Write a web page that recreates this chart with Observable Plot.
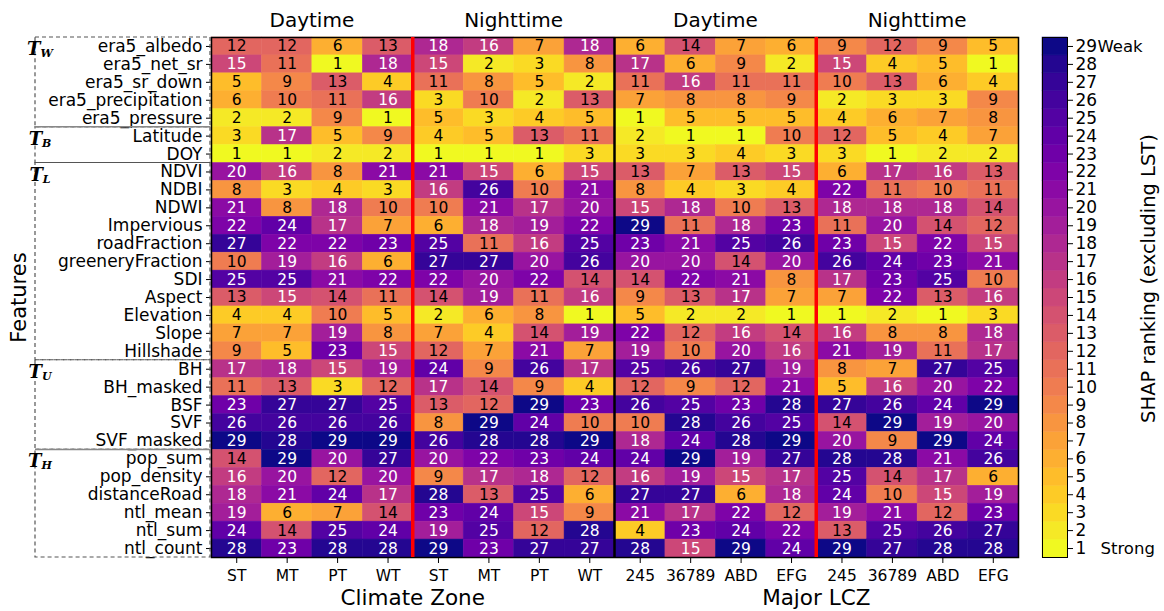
<!DOCTYPE html>
<html><head><meta charset="utf-8">
<script src="https://cdn.jsdelivr.net/npm/d3@7"></script>
<script src="https://cdn.jsdelivr.net/npm/@observablehq/plot@0.6"></script>
<style>
body{margin:0;background:#fff;}
#wrap{position:relative;width:1164px;height:611px;font-family:"DejaVu Sans",sans-serif;overflow:hidden;}
#wrap svg{position:absolute;top:0;overflow:visible;}
#wrap g[aria-label="x-axis tick label"] text{font-size:15.5px;}
#wrap g[aria-label="y-axis tick label"] text{font-size:17px;}
</style></head><body><div id="wrap"></div>
<script>
const features = ["era5_albedo","era5_net_sr","era5_sr_down","era5_precipitation","era5_pressure",
  "Latitude","DOY","NDVI","NDBI","NDWI","Impervious","roadFraction","greeneryFraction","SDI","Aspect",
  "Elevation","Slope","Hillshade","BH","BH_masked","BSF","SVF","SVF_masked","pop_sum","pop_density",
  "distanceRoad","ntl_mean","ntl_sum","ntl_count"];
const featureGroups = [
  {sub:"W", first:"era5_albedo", last:"era5_pressure"},
  {sub:"B", first:"Latitude", last:"DOY"},
  {sub:"L", first:"NDVI", last:"Hillshade"},
  {sub:"U", first:"BH", last:"SVF_masked"},
  {sub:"H", first:"pop_sum", last:"ntl_count"}
];
const panels = ["Climate Zone","Major LCZ"];
const periods = ["Daytime","Nighttime"];
const climateZones = ["ST","MT","PT","WT"];
const lczGroups = ["245","36789","ABD","EFG"];

const czDay = [[12,12,6,13],[15,11,1,18],[5,9,13,4],[6,10,11,16],[2,2,9,1],[3,17,5,9],[1,1,2,2],
  [20,16,8,21],[8,3,4,3],[21,8,18,10],[22,24,17,7],[27,22,22,23],[10,19,16,6],[25,25,21,22],[13,15,14,11],
  [4,4,10,5],[7,7,19,8],[9,5,23,15],[17,18,15,19],[11,13,3,12],[23,27,27,25],[26,26,26,26],[29,28,29,29],
  [14,29,20,27],[16,20,12,20],[18,21,24,17],[19,6,7,14],[24,14,25,24],[28,23,28,28]];
const czNight = [[18,16,7,18],[15,2,3,8],[11,8,5,2],[3,10,2,13],[5,3,4,5],[4,5,13,11],[1,1,1,3],
  [21,15,6,15],[16,26,10,21],[10,21,17,20],[6,18,19,22],[25,11,16,25],[27,27,20,26],[22,20,22,14],[14,19,11,16],
  [2,6,8,1],[7,4,14,19],[12,7,21,7],[24,9,26,17],[17,14,9,4],[13,12,29,23],[8,29,24,10],[26,28,28,29],
  [20,22,23,24],[9,17,18,12],[28,13,25,6],[23,24,15,9],[19,25,12,28],[29,23,27,27]];
const lczDay = [[6,14,7,6],[17,6,9,2],[11,16,11,11],[7,8,8,9],[1,5,5,5],[2,1,1,10],[3,3,4,3],
  [13,7,13,15],[8,4,3,4],[15,18,10,13],[29,11,18,23],[23,21,25,26],[20,20,14,20],[14,22,21,8],[9,13,17,7],
  [5,2,2,1],[22,12,16,14],[19,10,20,16],[25,26,27,19],[12,9,12,21],[26,25,23,28],[10,28,26,25],[18,24,28,29],
  [24,29,19,27],[16,19,15,17],[27,27,6,18],[21,17,22,12],[4,23,24,22],[28,15,29,24]];
const lczNight = [[9,12,9,5],[15,4,5,1],[10,13,6,4],[2,3,3,9],[4,6,7,8],[12,5,4,7],[3,1,2,2],
  [6,17,16,13],[22,11,10,11],[18,18,18,14],[11,20,14,12],[23,15,22,15],[26,24,23,21],[17,23,25,10],[7,22,13,16],
  [1,2,1,3],[16,8,8,18],[21,19,11,17],[8,7,27,25],[5,16,20,22],[27,26,24,29],[14,29,19,20],[20,9,29,24],
  [28,28,21,26],[25,14,17,6],[24,10,15,19],[19,21,12,23],[13,25,26,27],[29,27,28,28]];
const rankLevels = d3.range(1, 30);

// build table
const blocks = [
  {panel:panels[0], period:periods[0], cols:climateZones, vals:czDay},
  {panel:panels[0], period:periods[1], cols:climateZones, vals:czNight},
  {panel:panels[1], period:periods[0], cols:lczGroups, vals:lczDay},
  {panel:panels[1], period:periods[1], cols:lczGroups, vals:lczNight}
];
const colKeys = [];
const table = [];
blocks.forEach(b => {
  b.cols.forEach((c, j) => {
    const key = `${b.panel}|${b.period}|${c}`;
    colKeys.push(key);
    features.forEach((f, i) => table.push({feature:f, col:key, rank:b.vals[i][j]}));
  });
});

const colorScale = {type:"linear", scheme:"plasma", reverse:true, domain:[1,29]};
const font = "DejaVu Sans, sans-serif";

const plot = Plot.plot({
  width:1164, height:611,
  marginLeft:211, marginRight:146, marginTop:37, marginBottom:54,
  style:{fontFamily:font, fontSize:"16px", color:"#000", background:"transparent", overflow:"visible"},
  x:{domain:colKeys, padding:0, round:false, axis:"bottom", tickFormat:d => d.split("|")[2], tickSize:6, tickPadding:6, label:null},
  y:{domain:features, padding:0, round:false, tickSize:5, tickPadding:4, label:null},
  color:colorScale,
  marks:[
    Plot.cell(table, {x:"col", y:"feature", fill:"rank", stroke:"rank", strokeWidth:0.5, inset:0}),
    Plot.text(table.filter(d => d.rank < 15), {x:"col", y:"feature", text:"rank", fill:"black", fontSize:15.5}),
    Plot.text(table.filter(d => d.rank >= 15), {x:"col", y:"feature", text:"rank", fill:"white", fontSize:15.5}),
    Plot.frame({stroke:"black", strokeWidth:1.5}),
    Plot.text(["Features"], {frameAnchor:"left", dx:-192, rotate:-90, textAnchor:"middle", fontSize:21, fill:"black"})
  ]
});
document.getElementById("wrap").appendChild(plot);

// overlays using the plot's scales
const xs = plot.scale("x"), ys = plot.scale("y");
const bw = xs.bandwidth, bh = ys.bandwidth;
const xAt = i => i >= colKeys.length ? xs.apply(colKeys[colKeys.length-1]) + bw : xs.apply(colKeys[i]);
const yTop = ys.apply(features[0]), yBot = ys.apply(features[features.length-1]) + bh;
const svg = d3.select(plot);
const g = svg.append("g");
[4, 12].forEach(i => g.append("line").attr("x1", xAt(i)).attr("x2", xAt(i)).attr("y1", yTop).attr("y2", yBot)
  .attr("stroke", "#ff0000").attr("stroke-width", 3.5));
g.append("line").attr("x1", xAt(8)).attr("x2", xAt(8)).attr("y1", yTop).attr("y2", yBot)
  .attr("stroke", "black").attr("stroke-width", 2.5);
for (let b = 0; b < 4; b++) {
  g.append("text").attr("x", (xAt(4*b) + xAt(4*b+4)) / 2).attr("y", 21)
    .attr("text-anchor", "middle").attr("dominant-baseline", "middle")
    .attr("font-family", font).attr("font-size", 20).text(blocks[b].period);
}
for (let p = 0; p < 2; p++) {
  g.append("text").attr("x", (xAt(8*p) + xAt(8*p+8)) / 2).attr("y", 599)
    .attr("text-anchor", "middle").attr("dominant-baseline", "middle")
    .attr("font-family", font).attr("font-size", 21.5).text(panels[p]);
}
// feature group boxes
const boxX0 = 35, boxX1 = 210;
featureGroups.forEach((grp, k) => {
  const t = ys.apply(grp.first), bt = ys.apply(grp.last) + bh;
  g.append("rect").attr("x", boxX0).attr("y", t).attr("width", boxX1 - boxX0).attr("height", bt - t)
    .attr("fill", "none").attr("stroke", "#555").attr("stroke-width", 1.2).attr("stroke-dasharray", "4,3");
  const tx = g.append("text").attr("x", 40).attr("y", t + 13).attr("dominant-baseline", "middle")
    .attr("font-family", "DejaVu Serif, serif").attr("font-weight", "bold").attr("font-style", "italic")
    .attr("font-size", 18);
  tx.append("tspan").text("T");
  tx.append("tspan").attr("font-size", 11).attr("dy", 4).text(grp.sub);
});
[ys.apply("Latitude"), ys.apply("pop_sum")].forEach(yy =>
  g.append("line").attr("x1", boxX0).attr("x2", boxX1).attr("y1", yy).attr("y2", yy)
    .attr("stroke", "#888").attr("stroke-width", 1.5));

// colorbar
const cbar = Plot.plot({
  width:164, height:611, marginLeft:42, marginRight:97, marginTop:37, marginBottom:54,
  style:{fontFamily:font, fontSize:"16.5px", color:"#000", background:"transparent", overflow:"visible"},
  y:{domain:rankLevels.slice().reverse(), padding:0, round:false, axis:"right", tickSize:5, tickPadding:3, label:null},
  color:colorScale,
  marks:[
    Plot.cell(rankLevels, {y:d => d, fill:d => d, stroke:d => d, strokeWidth:0.5}),
    Plot.frame({stroke:"black", strokeWidth:1}),
    Plot.text([29], {y:d => d, text:() => "Weak", frameAnchor:"right", dx:30, textAnchor:"start", fontSize:16.5, fill:"black"}),
    Plot.text([1], {y:d => d, text:() => "Strong", frameAnchor:"right", dx:33, textAnchor:"start", fontSize:16.5, fill:"black"}),
    Plot.text(["SHAP ranking (excluding LST)"], {frameAnchor:"right", dx:81, dy:-19, rotate:-90, textAnchor:"middle", fontSize:19.5, fill:"black"})
  ]
});
cbar.style.left = "1000px";
document.getElementById("wrap").appendChild(cbar);
</script></body></html>
